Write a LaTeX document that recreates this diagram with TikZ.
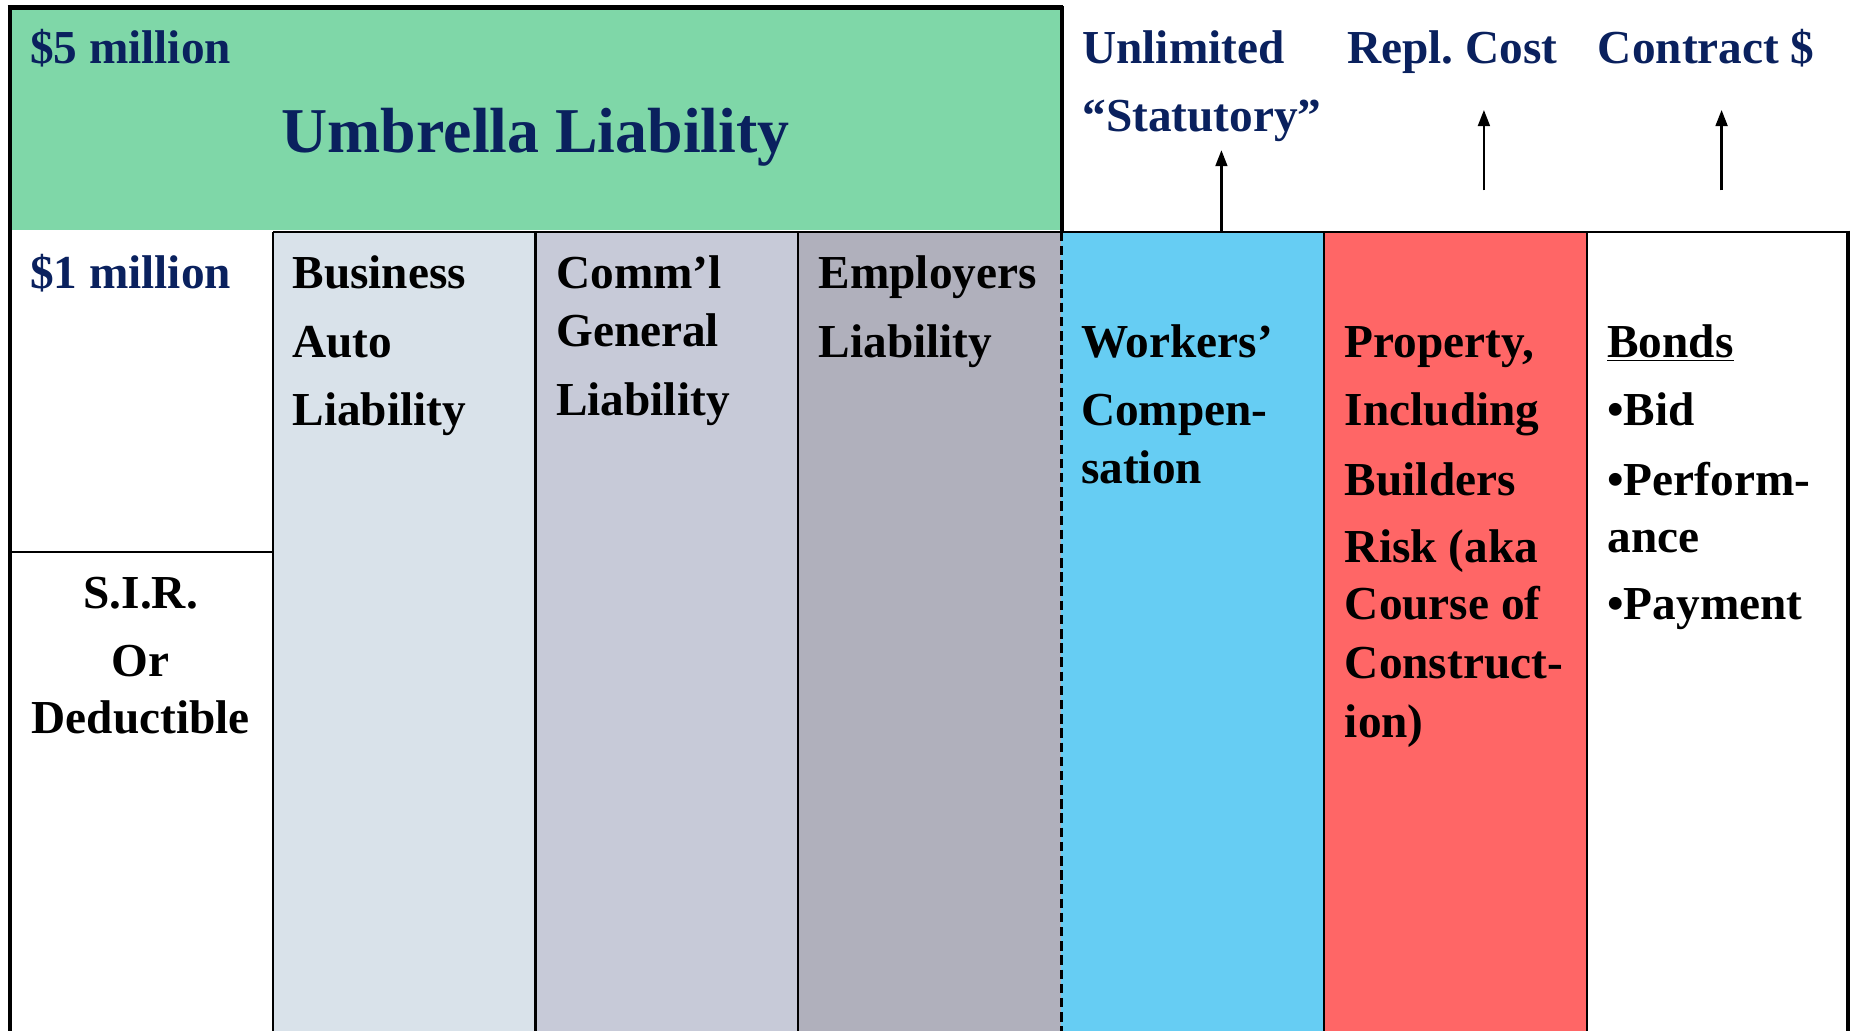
\documentclass[tikz,border=0pt]{standalone}
\usepackage{fontspec}
\setmainfont{Liberation Serif}
\usetikzlibrary{arrows.meta}
\definecolor{navy}{RGB}{10,33,94}
\definecolor{umbgreen}{RGB}{127,215,168}
\definecolor{colA}{RGB}{217,226,234}
\definecolor{colB}{RGB}{199,202,216}
\definecolor{colC}{RGB}{176,176,188}
\definecolor{colWC}{RGB}{102,205,243}
\definecolor{colProp}{RGB}{255,102,102}
\frenchspacing
\begin{document}
\begin{tikzpicture}[x=0.5pt,y=-0.5pt,
  txt/.style={anchor=base west, inner sep=0pt, font=\fontsize{20}{24}\selectfont\bfseries},
  ctxt/.style={txt, anchor=base},
  hdr/.style={txt, text=navy},
  thinline/.style={line width=1pt},
  border/.style={line width=2pt},
  arr/.style={-{Triangle[length=6.8pt,width=5pt]}, line width=1pt}]
\useasboundingbox (0,0) rectangle (1568,872);
% fills
\fill[umbgreen] (9,7) rectangle (897,194.5);
\fill[colA] (231,196) rectangle (453,872);
\fill[colB] (453,196) rectangle (675,872);
\fill[colC] (675,196) rectangle (897,872);
\fill[colWC] (897,196) rectangle (1120,872);
\fill[colProp] (1120,196) rectangle (1342,872);
% lines
\draw[thinline] (231,196) -- (1563,196);
\draw[thinline] (231,196) -- (231,872);
\draw[thinline] (453,196) -- (453,872);
\draw[thinline] (675,196) -- (675,872);
\draw[thinline] (1120,196) -- (1120,872);
\draw[thinline] (1342,196) -- (1342,872);
\draw[thinline] (8.5,466.6) -- (231,466.6);
\draw[line width=1.2pt, dash pattern=on 4pt off 2pt] (897.5,196) -- (897.5,872);
\draw[line width=1.5pt] (898,5) -- (898,196);
\draw[border] (6.5,6.3) -- (899,6.3);
\draw[border] (8.5,4.5) -- (8.5,872);
\draw[border] (1563,195) -- (1563,872);
% header texts
\node[hdr] (five) at (25,54) {\$5 million};
\node[hdr, anchor=base, font=\fontsize{27}{32}\selectfont\bfseries] (umb) at (453,129) {Umbrella Liability};
\node[hdr] (one) at (25,244) {\$1 million};
\node[hdr] (unl) at (915,54) {Unlimited};
\node[hdr] (stat) at (915,111) {“Statutory”};
\node[hdr] (repl) at (1139,54) {Repl.\ Cost};
\node[hdr] (contr) at (1351,54) {Contract \$};
% SIR
\node[ctxt] (sir1) at (119,514.5) {S.I.R.};
\node[ctxt] (sir2) at (119,572.3) {Or};
\node[ctxt] (sir3) at (119,620.2) {Deductible};
% columns
\node[txt] (ba1) at (247,244) {Business};
\node[txt] (ba2) at (247,302) {Auto};
\node[txt] (ba3) at (247,360) {Liability};
\node[txt] (cg1) at (470,244) {Comm’l};
\node[txt] (cg2) at (470,293) {General};
\node[txt] (cg3) at (470,351) {Liability};
\node[txt] (el1) at (692,244) {Employers};
\node[txt] (el2) at (692,302) {Liability};
\node[txt] (wc1) at (914,302) {Workers’};
\node[txt] (wc2) at (914,360) {Compen-};
\node[txt] (wc3) at (914,409) {sation};
\node[txt] (pr1) at (1137,302) {Property,};
\node[txt] (pr2) at (1137,360) {Including};
\node[txt] (pr3) at (1137,419) {Builders};
\node[txt] (pr4) at (1137,476) {Risk (aka};
\node[txt] (pr5) at (1137,524) {Course of};
\node[txt] (pr6) at (1137,574) {Construct-};
\node[txt] (pr7) at (1137,624) {ion)};
\node[txt] (bo1) at (1359,302) {\underline{Bonds}};
\node[txt] (bo2) at (1359,360) {•Bid};
\node[txt] (bo3) at (1359,419) {•Perform-};
\node[txt] (bo4) at (1359,467) {ance};
\node[txt] (bo5) at (1359,524) {•Payment};
% arrows
\coordinate (a1s) at (1033,195);
\coordinate (a1e) at (1033,127);
\coordinate (a2s) at (1255,161);
\coordinate (a2e) at (1255,93);
\coordinate (a3s) at (1456,161);
\coordinate (a3e) at (1456,93);
\draw[arr] (a1s) -- (a1e);
\draw[arr] (a2s) -- (a2e);
\draw[arr] (a3s) -- (a3e);
\end{tikzpicture}
\end{document}
